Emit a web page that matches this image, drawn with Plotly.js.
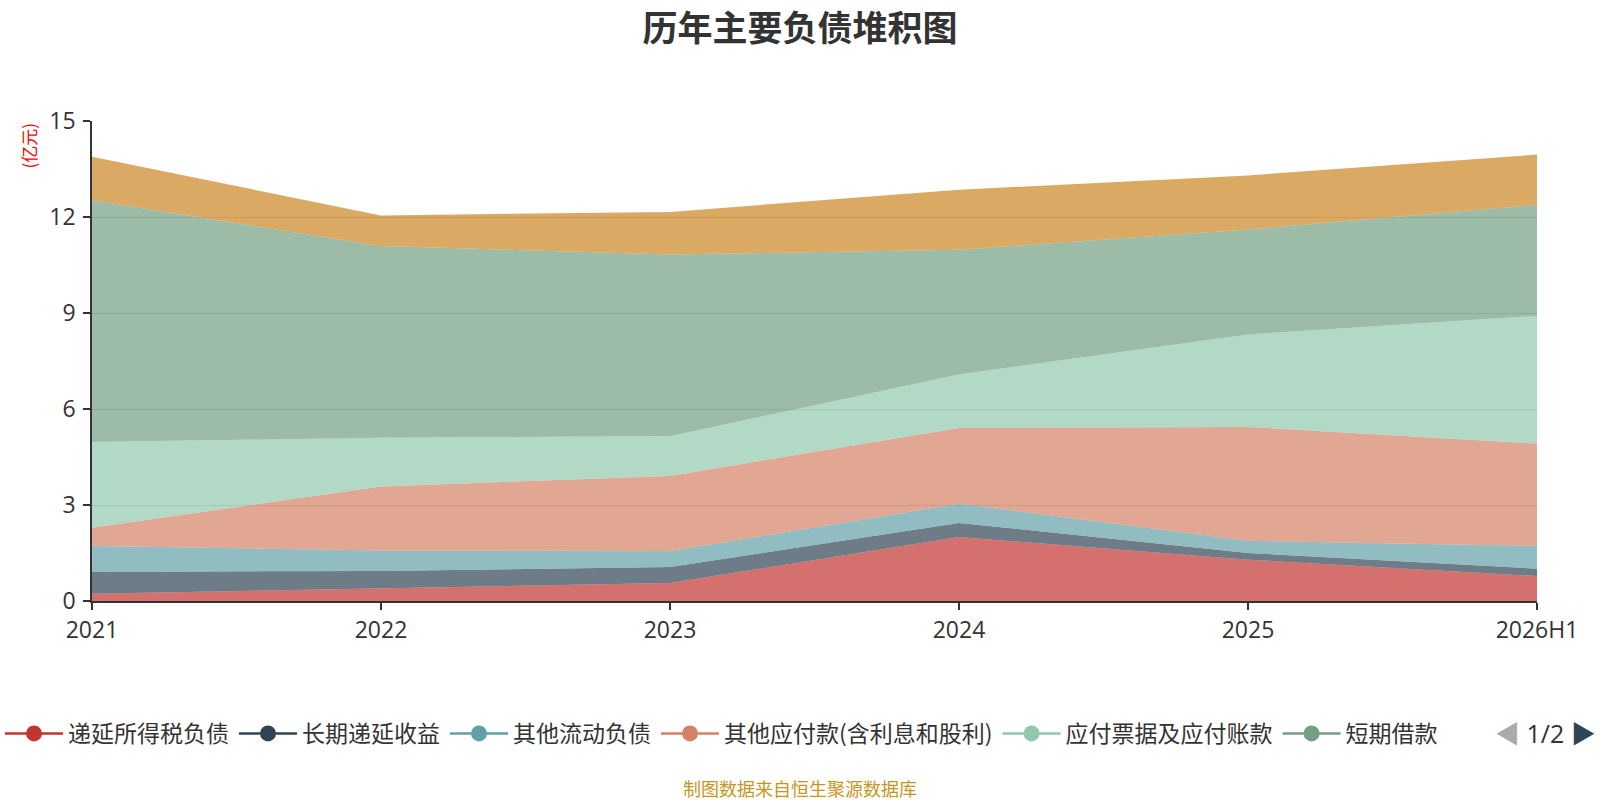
<!DOCTYPE html>
<html>
<head>
<meta charset="utf-8">
<script src="https://cdn.plot.ly/plotly-3.0.1.min.js"></script>
<style>
  html, body { margin: 0; padding: 0; background: #fff; }
  #graph { width: 1600px; height: 800px; }
</style>
</head>
<body>
<div id="graph"></div>
<script>
// 报告期
var years = ['2021', '2022', '2023', '2024', '2025', '2026H1'];

// 各项负债（亿元），自下而上堆积
var deferredTax = [0.23, 0.39, 0.56, 2.00, 1.29, 0.78];     // 递延所得税负债
var deferredIncome = [0.68, 0.55, 0.50, 0.44, 0.21, 0.23];  // 长期递延收益
var otherCurrent = [0.81, 0.64, 0.50, 0.60, 0.38, 0.71];    // 其他流动负债
var otherPayable = [0.57, 2.00, 2.35, 2.37, 3.56, 3.20];    // 其他应付款(含利息和股利)
var notesPayable = [2.68, 1.52, 1.24, 1.67, 2.89, 3.99];    // 应付票据及应付账款
var shortLoan = [7.55, 5.99, 5.68, 3.90, 3.28, 3.47];       // 短期借款
var lastItem = [1.36, 0.96, 1.33, 1.87, 1.69, 1.57];        // 第二页图例中的项目

var names = ['递延所得税负债', '长期递延收益', '其他流动负债', '其他应付款(含利息和股利)',
             '应付票据及应付账款', '短期借款', '应付职工薪酬'];
var colors = ['#c23531', '#2f4554', '#61a0a8', '#d48265', '#91c7ae', '#749f83', '#ca8622'];
var series = [deferredTax, deferredIncome, otherCurrent, otherPayable, notesPayable, shortLoan, lastItem];

function rgba(hex, a) {
  var r = parseInt(hex.slice(1, 3), 16), g = parseInt(hex.slice(3, 5), 16), b = parseInt(hex.slice(5, 7), 16);
  return 'rgba(' + r + ',' + g + ',' + b + ',' + a + ')';
}

var traces = [];
for (var i = 0; i < series.length; i++) {
  traces.push({
    x: years,
    y: series[i],
    name: names[i],
    type: 'scatter',
    mode: 'lines',
    stackgroup: 'one',
    line: { width: 0, color: colors[i] },
    fillcolor: rgba(colors[i], 0.7),
    showlegend: false,
    hovertemplate: '%{x}<br>' + names[i] + ': %{y}亿元<extra></extra>'
  });
}
// 图例（第一页只显示前六项）
for (var j = 0; j < 6; j++) {
  traces.push({
    x: [null],
    y: [null],
    name: names[j],
    type: 'scatter',
    mode: 'lines+markers',
    line: { width: 2.5, color: colors[j] },
    marker: { size: 16, color: colors[j], symbol: 'circle' },
    hoverinfo: 'skip'
  });
}

var font = '"Noto Sans CJK SC", "Noto Sans", sans-serif';
var numFont = '"Open Sans", "Noto Sans CJK SC", sans-serif';

var layout = {
  width: 1600,
  height: 800,
  margin: { l: 92, r: 63, t: 121, b: 199, autoexpand: false },
  paper_bgcolor: '#fff',
  plot_bgcolor: '#fff',
  font: { family: font, color: '#333' },
  title: {
    text: '<b>历年主要负债堆积图</b>',
    x: 0.5,
    xanchor: 'center',
    y: 0.964,
    yanchor: 'middle',
    font: { size: 35, color: '#333', family: font }
  },
  xaxis: {
    type: 'category',
    range: [0, 5],
    showgrid: false,
    showline: true,
    linecolor: '#333',
    linewidth: 2,
    ticks: 'outside',
    ticklen: 7,
    tickcolor: '#333',
    tickwidth: 1.5,
    tickfont: { size: 23, color: '#333', family: numFont },
    fixedrange: true
  },
  yaxis: {
    range: [0, 15],
    tickvals: [0, 3, 6, 9, 12, 15],
    showgrid: true,
    gridcolor: '#cccccc',
    gridwidth: 1,
    zeroline: false,
    showline: true,
    linecolor: '#333',
    linewidth: 1.5,
    ticks: 'outside',
    ticklen: 7,
    tickcolor: '#333',
    tickwidth: 1.5,
    tickfont: { size: 23, color: '#333', family: numFont },
    ticklabelstandoff: 3,
    fixedrange: true
  },
  showlegend: true,
  legend: {
    orientation: 'h',
    traceorder: 'normal',
    xref: 'container',
    x: -0.0001,
    xanchor: 'left',
    y: -0.276,
    yanchor: 'middle',
    itemwidth: 58,
    font: { size: 23, color: '#333', family: font },
    bgcolor: 'rgba(0,0,0,0)'
  },
  annotations: [
    {
      text: '(亿元)',
      xref: 'paper', yref: 'paper',
      x: -0.044, y: 0.95,
      xanchor: 'center', yanchor: 'middle',
      textangle: -90,
      showarrow: false,
      font: { size: 17, color: '#ff0000', family: font }
    },
    {
      text: '<span style="color:#aaaaaa">◀</span> 1/2 <span style="color:#2f4554">▶</span>',
      xref: 'paper', yref: 'paper',
      x: 1.006, y: -0.276,
      xanchor: 'center', yanchor: 'middle',
      showarrow: false,
      font: { size: 25, color: '#333', family: numFont }
    },
    {
      text: '制图数据来自恒生聚源数据库',
      xref: 'paper', yref: 'paper',
      x: 0.5 - (92 - 63) / 2 / 1445, y: -0.39,
      xanchor: 'center', yanchor: 'middle',
      showarrow: false,
      font: { size: 18, color: '#c8961e', family: font }
    }
  ]
};

Plotly.newPlot('graph', traces, layout, { displayModeBar: false, responsive: false });
</script>
</body>
</html>
